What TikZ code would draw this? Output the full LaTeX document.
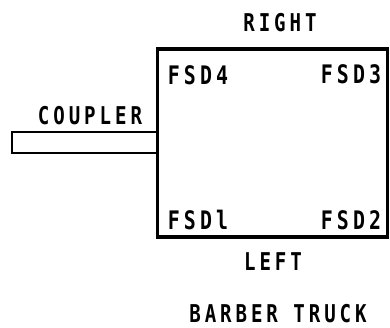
\documentclass[tikz,border=0pt]{standalone}
\usepackage{fontspec}
\setmonofont{DejaVu Sans Mono}[LetterSpace=16, FakeStretch=0.78]
\begin{document}
\begin{tikzpicture}[x=1pt,y=-1pt,
  lbl/.style={font=\ttfamily\bfseries\fontsize{24.5}{24.5}\selectfont, inner sep=0pt, anchor=center, text depth=0pt},
  flbl/.style={font=\ttfamily\bfseries\fontsize{25.5}{25.5}\selectfont, inner sep=0pt, anchor=center, text depth=0pt},
  truckbox/.style={draw, line width=3.4pt, rectangle, inner sep=0pt},
  couplerbox/.style={draw, line width=2.6pt, rectangle, inner sep=0pt}]
\useasboundingbox (0,0) rectangle (390,327);
\node[truckbox, minimum width=230pt, minimum height=188pt] (truck) at (272.5,143) {};
\node[couplerbox, minimum width=145pt, minimum height=21pt] (coupler) at (84.5,142.5) {};
\node[lbl] (right) at (280,22) {RIGHT};
\node[flbl] (fsd4) at (198,75) {FSD4};
\node[flbl] (fsd3) at (351,74) {FSD3};
\node[lbl] (coup) at (90,115) {COUPLER};
\node[flbl] (fsd1) at (198,220) {FSDl};
\node[flbl] (fsd2) at (351,220) {FSD2};
\node[lbl] (left) at (273,262) {LEFT};
\node[lbl] (title) at (278,313) {BARBER TRUCK};
\end{tikzpicture}
\end{document}
